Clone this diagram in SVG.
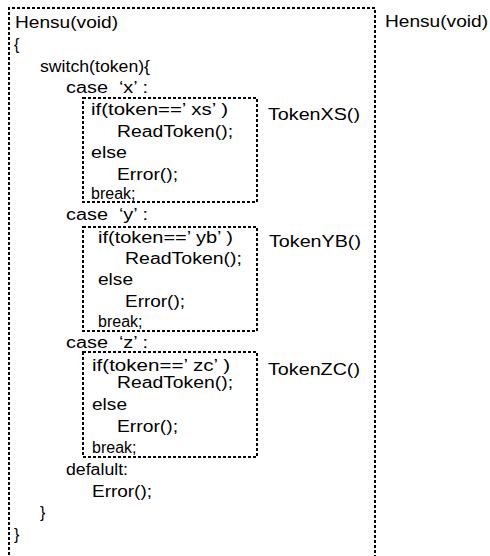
<svg xmlns="http://www.w3.org/2000/svg" width="490" height="556" viewBox="0 0 490 556">
<style>
text{font-family:"Liberation Sans","Noto Sans CJK JP",sans-serif;font-size:16px;fill:#000;white-space:pre}
.box{fill:none;stroke:#000;stroke-width:2;stroke-dasharray:3 2}
</style>
<rect width="490" height="556" fill="#fff"/>
<g id="hensu">
<path class="box" d="M9,570 V8 H375 V570"/>
<text x="385" y="27" textLength="103" lengthAdjust="spacingAndGlyphs">Hensu(void)</text>
<text x="15" y="28" textLength="103" lengthAdjust="spacingAndGlyphs">Hensu(void)</text>
<text x="14" y="50">{</text>
<text x="40" y="72" textLength="110" lengthAdjust="spacingAndGlyphs">switch(token){</text>
<text x="66" y="93" textLength="82" lengthAdjust="spacingAndGlyphs">case  ‘x’ :</text>
<text x="66" y="220" textLength="82" lengthAdjust="spacingAndGlyphs">case  ‘y’ :</text>
<text x="66" y="348" textLength="82" lengthAdjust="spacingAndGlyphs">case  ‘z’ :</text>
<text x="66" y="475" textLength="62" lengthAdjust="spacingAndGlyphs">defalult:</text>
<text x="92" y="497" textLength="60" lengthAdjust="spacingAndGlyphs">Error();</text>
<text x="40" y="518">}</text>
<text x="14" y="540">}</text>
</g>
<g id="tokenxs">
<rect class="box" x="83" y="98" width="174" height="104"/>
<text x="268" y="120" textLength="92" lengthAdjust="spacingAndGlyphs">TokenXS()</text>
<text x="91" y="115" textLength="137" lengthAdjust="spacingAndGlyphs">if(token==’ xs’ )</text>
<text x="117" y="137" textLength="116" lengthAdjust="spacingAndGlyphs">ReadToken();</text>
<text x="91" y="158" textLength="36" lengthAdjust="spacingAndGlyphs">else</text>
<text x="117" y="180" textLength="61" lengthAdjust="spacingAndGlyphs">Error();</text>
<text x="91" y="199">break;</text>
</g>
<g id="tokenyb">
<rect class="box" x="83" y="227" width="174" height="104"/>
<text x="269" y="247" textLength="92" lengthAdjust="spacingAndGlyphs">TokenYB()</text>
<text x="98" y="243" textLength="135" lengthAdjust="spacingAndGlyphs">if(token==’ yb’ )</text>
<text x="125" y="264" textLength="117" lengthAdjust="spacingAndGlyphs">ReadToken();</text>
<text x="98" y="285" textLength="35" lengthAdjust="spacingAndGlyphs">else</text>
<text x="125" y="307" textLength="60" lengthAdjust="spacingAndGlyphs">Error();</text>
<text x="98" y="327">break;</text>
</g>
<g id="tokenzc">
<rect class="box" x="83" y="352" width="174" height="105"/>
<text x="268" y="375" textLength="92" lengthAdjust="spacingAndGlyphs">TokenZC()</text>
<text x="92" y="371" textLength="138" lengthAdjust="spacingAndGlyphs">if(token==’ zc’ )</text>
<text x="117" y="388" textLength="116" lengthAdjust="spacingAndGlyphs">ReadToken();</text>
<text x="92" y="410" textLength="35" lengthAdjust="spacingAndGlyphs">else</text>
<text x="117" y="432" textLength="61" lengthAdjust="spacingAndGlyphs">Error();</text>
<text x="92" y="453">break;</text>
</g>
<g id="connectors"/>
</svg>
